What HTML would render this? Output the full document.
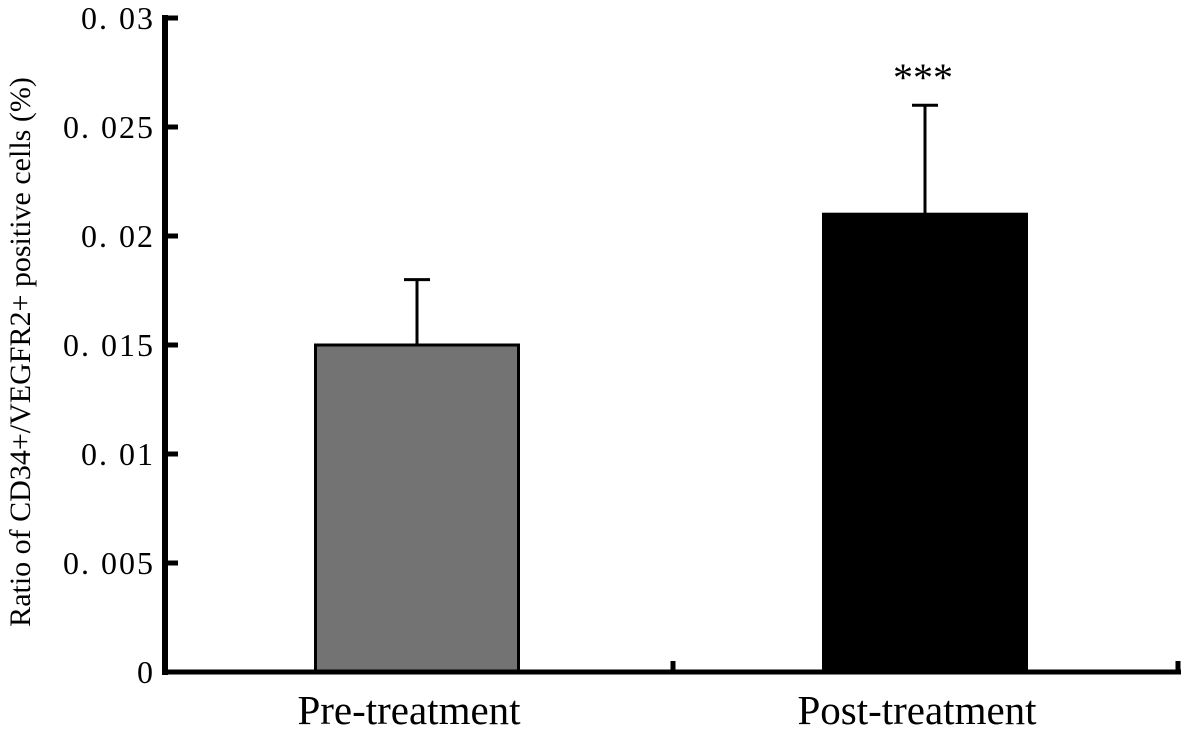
<!DOCTYPE html>
<html><head><meta charset="utf-8"><style>
body{margin:0;background:#fff;}
svg text{font-family:"Liberation Serif","Noto Serif CJK SC",serif;fill:#000;}
</style></head><body>
<svg width="1187" height="731" viewBox="0 0 1187 731" id="chart"></svg>
<script>
const categories=["Pre-treatment","Post-treatment"];
const values=[0.015,0.021];
const errors=[0.003,0.005];
const fills=["#737373","#000000"];
const sigLabels=["","***"];
const tickValues=[0,0.005,0.01,0.015,0.02,0.025,0.03];
const tickLabels=["0","0. 005","0. 01","0. 015","0. 02","0. 025","0. 03"];
const svg=document.getElementById('chart');
const NS="http://www.w3.org/2000/svg";
const y0=672,y1=18,vmax=0.03;
function y(v){return y0-(v/vmax)*(y0-y1);}
const centers=[417,925],bw=203;
function mk(t,a,name){const e=document.createElementNS(NS,t);for(const k in a)e.setAttribute(k,a[k]);


svg.appendChild(e);return e;}
categories.forEach((c,i)=>{
 const top=y(values[i]),et=y(values[i]+errors[i]),cx=centers[i];
 mk('line',{x1:cx,x2:cx,y1:top,y2:et,stroke:'#000','stroke-width':3},'error-bar-'+i);
 mk('line',{x1:cx-13,x2:cx+13,y1:et,y2:et,stroke:'#000','stroke-width':3},'error-cap-'+i);
 mk('rect',{x:cx-bw/2,y:top,width:bw,height:y0-top,fill:fills[i],stroke:'#000','stroke-width':3},'bar-'+i);
 const t=mk('text',{x:cx-8,y:724,'font-size':41,'text-anchor':'middle'},'x-label-'+i);t.textContent=c;
 if(sigLabels[i]){const s=mk('text',{x:cx-2,y:et-14,'font-size':40,'text-anchor':'middle'},'significance-'+i);s.textContent=sigLabels[i];}
});
mk('line',{x1:165,x2:165,y1:15,y2:675,stroke:'#000','stroke-width':6},'y-axis');
mk('line',{x1:162,x2:1181,y1:672,y2:672,stroke:'#000','stroke-width':5},'x-axis');
mk('line',{x1:673,x2:673,y1:672,y2:661,stroke:'#000','stroke-width':5},'x-tick-mid');
mk('line',{x1:1178,x2:1178,y1:672,y2:661,stroke:'#000','stroke-width':5},'x-tick-end');
tickValues.forEach((v,i)=>{
 if(v>0) mk('line',{x1:165,x2:178,y1:y(v),y2:y(v),stroke:'#000','stroke-width':5},'y-tick-'+i);
 const t=mk('text',{x:155,y:y(v)+11,'font-size':32,'text-anchor':'end','letter-spacing':2},'y-tick-label-'+i);t.textContent=tickLabels[i];
});
const yt=mk('text',{x:0,y:0,'font-size':30,'text-anchor':'middle',transform:'translate(30,352) rotate(-90)'},'y-axis-title');
yt.textContent="Ratio of  CD34+/VEGFR2+ positive cells (%)";
</script>
</body></html>
